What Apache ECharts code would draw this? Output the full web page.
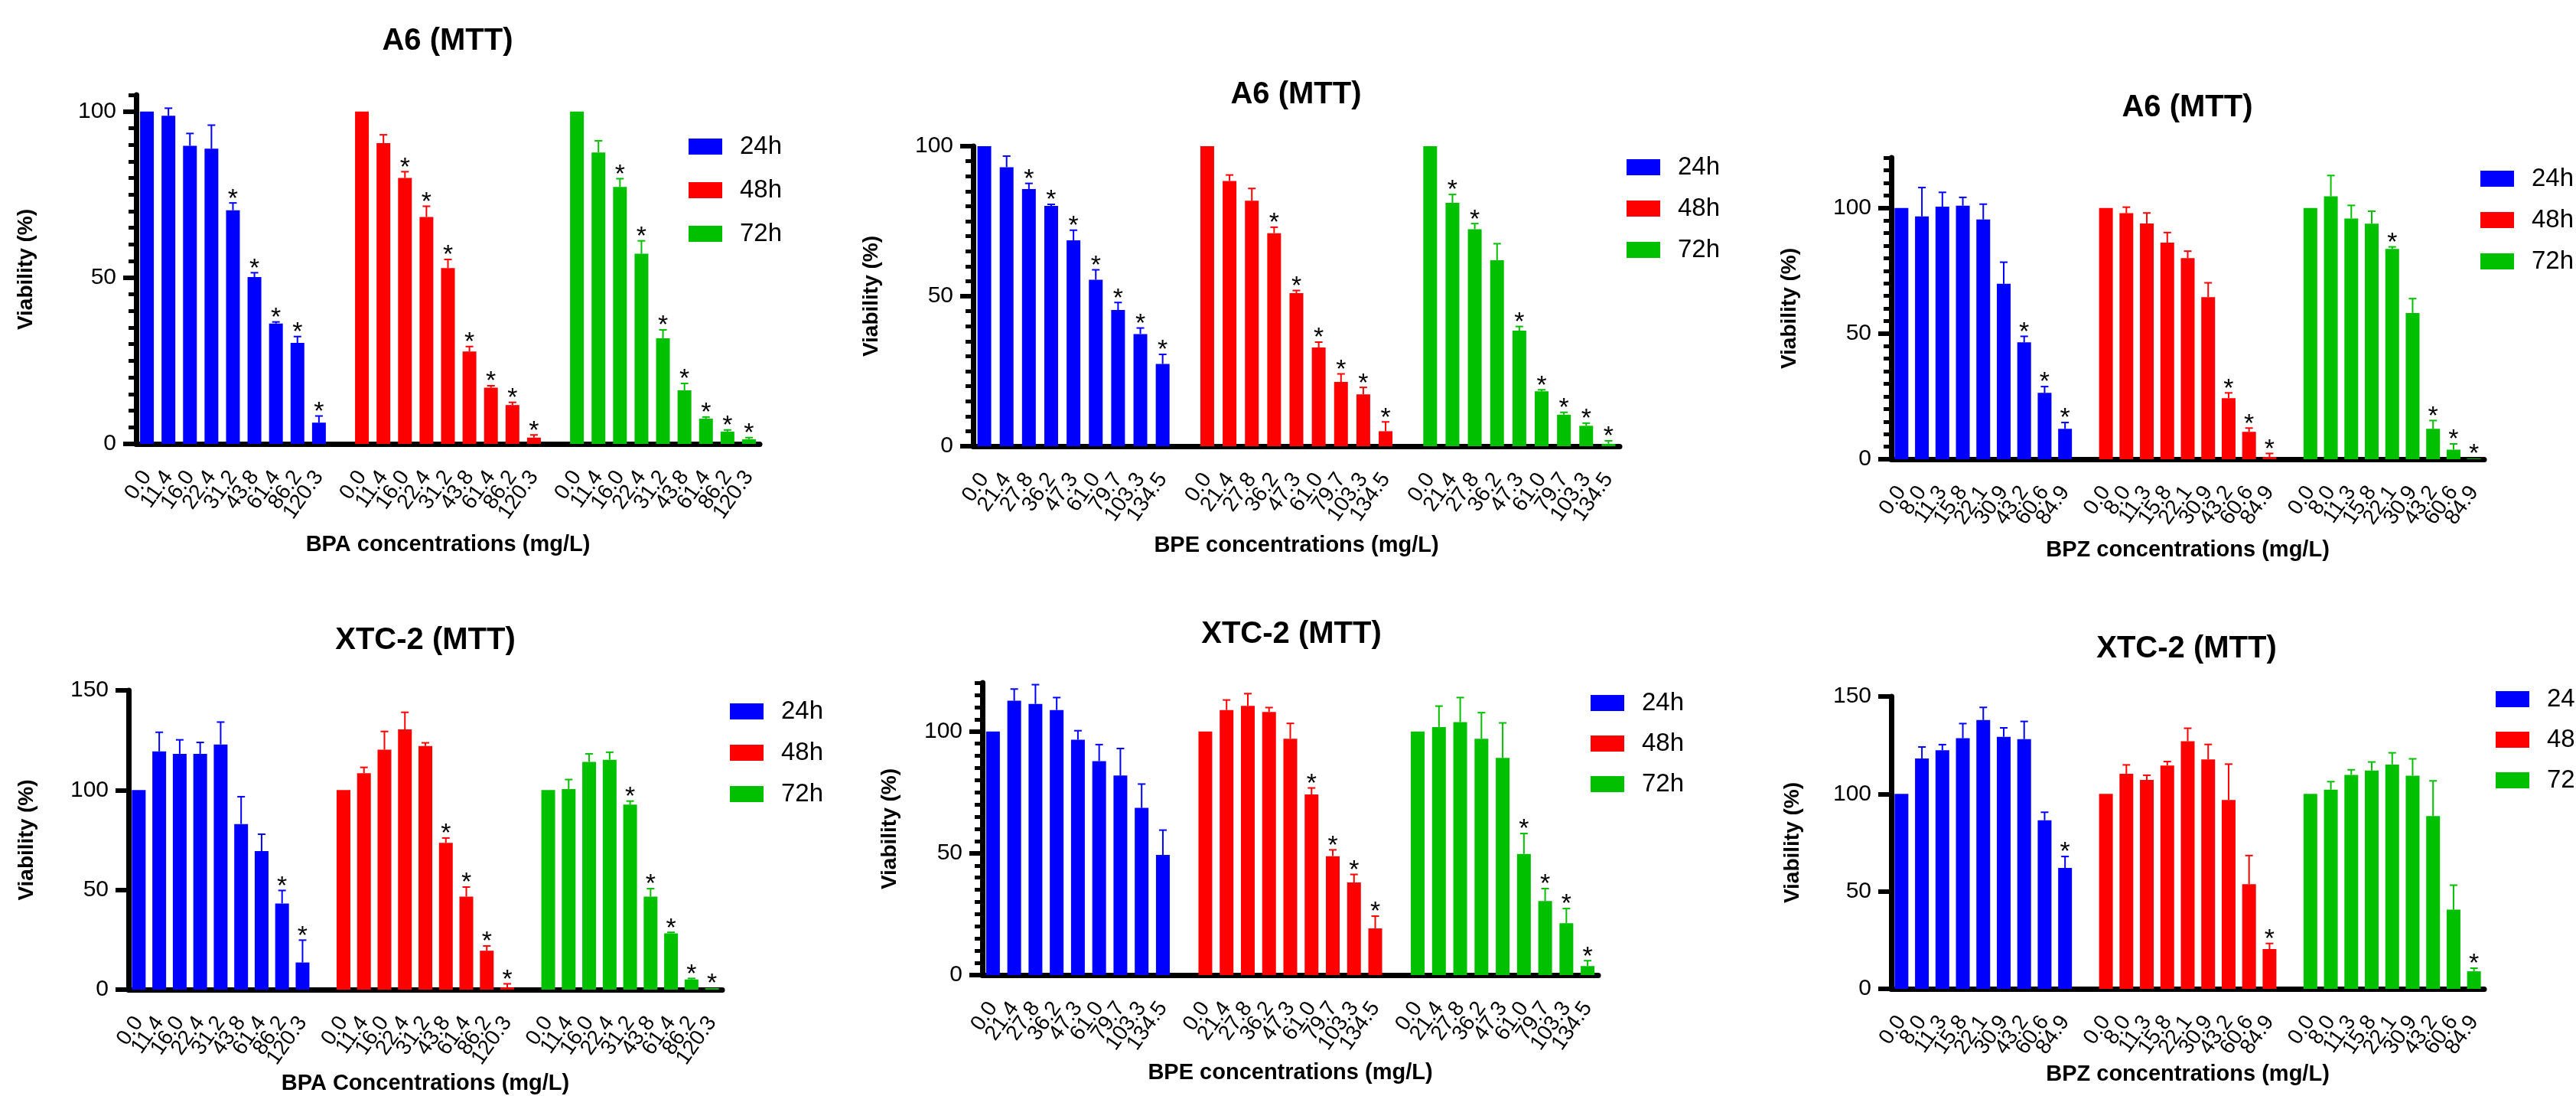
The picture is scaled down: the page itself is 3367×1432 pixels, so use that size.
<!DOCTYPE html>
<html>
<head>
<meta charset="utf-8">
<title>MTT viability</title>
<script src="https://cdn.jsdelivr.net/npm/echarts@6/dist/echarts.min.js"></script>
<style>
  html, body { margin: 0; padding: 0; background: #fff; }
  #main { width: 3367px; height: 1432px; }
</style>
</head>
<body>
<div id="main"></div>
<script>
// concentrations (mg/L)
var bpaConc = ['0.0', '11.4', '16.0', '22.4', '31.2', '43.8', '61.4', '86.2', '120.3'];
var bpeConc = ['0.0', '21.4', '27.8', '36.2', '47.3', '61.0', '79.7', '103.3', '134.5'];
var bpzConc = ['0.0', '8.0', '11.3', '15.8', '22.1', '30.9', '43.2', '60.6', '84.9'];
var times = ['24h', '48h', '72h'];

// A6, BPA  (mean, SD, significant)
var a6Bpa24 = [100, 98.7, 89.7, 88.8, 70.3, 50.2, 36.2, 30.4, 6.4];
var a6Bpa24Sd = [0, 2.3, 3.7, 7.1, 2.2, 1.3, 0.5, 1.9, 2.0];
var a6Bpa24Sig = [0, 0, 0, 0, 1, 1, 1, 1, 1];
var a6Bpa48 = [100, 90.5, 80.0, 68.3, 52.9, 27.8, 16.9, 11.7, 1.9];
var a6Bpa48Sd = [0, 2.5, 1.9, 3.2, 2.6, 1.5, 0.6, 0.8, 0.8];
var a6Bpa48Sig = [0, 0, 1, 1, 1, 1, 1, 1, 1];
var a6Bpa72 = [100, 87.7, 77.3, 57.2, 31.8, 16.1, 7.6, 3.7, 1.4];
var a6Bpa72Sd = [0, 3.5, 2.5, 3.9, 2.5, 2.1, 0.5, 0.5, 0.5];
var a6Bpa72Sig = [0, 0, 1, 1, 1, 1, 1, 1, 1];

// A6, BPE
var a6Bpe24 = [100, 93.0, 85.7, 80.1, 68.6, 55.5, 45.4, 37.4, 27.4];
var a6Bpe24Sd = [0, 3.7, 1.9, 0.5, 3.4, 3.3, 2.5, 2.0, 3.2];
var a6Bpe24Sig = [0, 0, 1, 1, 1, 1, 1, 1, 1];
var a6Bpe48 = [100, 88.4, 81.8, 71.0, 51.0, 32.9, 21.4, 17.3, 5.0];
var a6Bpe48Sd = [0, 2.0, 4.1, 2.0, 0.9, 1.8, 2.7, 2.3, 3.1];
var a6Bpe48Sig = [0, 0, 0, 1, 1, 1, 1, 1, 1];
var a6Bpe72 = [100, 81.1, 72.3, 62.0, 38.5, 18.3, 10.5, 6.8, 0.8];
var a6Bpe72Sd = [0, 2.8, 1.9, 5.5, 1.4, 0.5, 0.8, 0.9, 1.0];
var a6Bpe72Sig = [0, 1, 1, 0, 1, 1, 1, 1, 1];

// A6, BPZ
var a6Bpz24 = [100, 96.6, 100.5, 100.9, 95.4, 69.8, 46.5, 26.4, 12.1];
var a6Bpz24Sd = [0, 11.5, 5.7, 3.3, 6.1, 8.6, 2.4, 2.5, 2.5];
var a6Bpz24Sig = [0, 0, 0, 0, 0, 0, 1, 1, 1];
var a6Bpz48 = [100, 97.9, 93.8, 86.2, 80.0, 64.5, 24.3, 10.9, 0.9];
var a6Bpz48Sd = [0, 2.4, 4.2, 4.0, 2.8, 5.7, 2.1, 1.5, 1.4];
var a6Bpz48Sig = [0, 0, 0, 0, 0, 0, 1, 1, 1];
var a6Bpz72 = [100, 104.6, 95.8, 93.7, 83.7, 58.2, 12.1, 3.8, 0.3];
var a6Bpz72Sd = [0, 8.3, 5.2, 5.0, 0.8, 5.7, 3.3, 2.3, 0];
var a6Bpz72Sig = [0, 0, 0, 0, 1, 0, 1, 1, 1];

// XTC-2, BPA
var xtcBpa24 = [100, 119.4, 118.2, 118.2, 122.9, 83.0, 69.4, 43.2, 13.6];
var xtcBpa24Sd = [0, 9.6, 7.0, 5.7, 11.2, 13.7, 8.5, 6.5, 11.2];
var xtcBpa24Sig = [0, 0, 0, 0, 0, 0, 0, 1, 1];
var xtcBpa48 = [100, 108.5, 120.3, 130.4, 122.1, 73.6, 46.6, 19.5, 1.1];
var xtcBpa48Sd = [0, 2.9, 9.1, 8.6, 1.6, 2.4, 4.8, 2.4, 1.8];
var xtcBpa48Sig = [0, 0, 0, 0, 0, 1, 1, 1, 1];
var xtcBpa72 = [100, 100.5, 114.1, 115.2, 92.7, 46.6, 28.2, 5.1, 0.8];
var xtcBpa72Sd = [0, 4.8, 4.1, 3.8, 1.8, 4.0, 0.5, 0.5, 0];
var xtcBpa72Sig = [0, 0, 0, 0, 1, 1, 1, 1, 1];

// XTC-2, BPE
var xtcBpe24 = [100, 112.6, 111.3, 108.8, 96.6, 87.8, 81.9, 68.6, 49.3];
var xtcBpe24Sd = [0, 4.8, 7.9, 5.1, 3.7, 6.8, 11.1, 9.8, 10.2];
var xtcBpe24Sig = [0, 0, 0, 0, 0, 0, 0, 0, 0];
var xtcBpe48 = [100, 108.8, 110.5, 108.0, 97.0, 74.1, 48.8, 38.0, 19.2];
var xtcBpe48Sd = [0, 4.1, 5.0, 1.8, 6.3, 2.7, 2.6, 3.3, 5.0];
var xtcBpe48Sig = [0, 0, 0, 0, 0, 1, 1, 1, 1];
var xtcBpe72 = [100, 101.8, 103.8, 97.0, 89.1, 49.7, 30.4, 21.3, 3.7];
var xtcBpe72Sd = [0, 8.6, 10.1, 10.7, 14.4, 8.4, 5.1, 6.0, 2.2];
var xtcBpe72Sig = [0, 0, 0, 0, 0, 1, 1, 1, 1];

// XTC-2, BPZ
var xtcBpz24 = [100, 118.2, 122.4, 128.6, 137.9, 129.3, 128.1, 86.5, 62.0];
var xtcBpz24Sd = [0, 5.9, 2.9, 7.5, 6.5, 4.6, 9.1, 4.1, 5.9];
var xtcBpz24Sig = [0, 0, 0, 0, 0, 0, 0, 0, 1];
var xtcBpz48 = [100, 110.3, 107.2, 114.6, 127.0, 117.7, 96.9, 53.7, 20.4];
var xtcBpz48Sd = [0, 4.6, 2.4, 2.0, 6.7, 7.7, 18.4, 14.7, 2.9];
var xtcBpz48Sig = [0, 0, 0, 0, 0, 0, 0, 0, 1];
var xtcBpz72 = [100, 102.2, 109.8, 112.0, 115.1, 109.4, 88.6, 40.6, 9.0];
var xtcBpz72Sd = [0, 4.1, 2.6, 4.4, 6.0, 8.6, 18.1, 12.6, 1.6];
var xtcBpz72Sig = [0, 0, 0, 0, 0, 0, 0, 0, 1];

var colors = ['#0000ff', '#ff0000', '#00c000'];
var font = '"Liberation Sans", Arial, sans-serif';

// layout of the six panels
var panels = [
  { title: 'A6 (MTT)', xName: 'BPA concentrations (mg/L)', conc: bpaConc,
    means: [a6Bpa24, a6Bpa48, a6Bpa72], sds: [a6Bpa24Sd, a6Bpa48Sd, a6Bpa72Sd], sigs: [a6Bpa24Sig, a6Bpa48Sig, a6Bpa72Sig],
    ymax: 105, yTicks: [0, 50, 100], minor: true,
    grid: { left: 178, top: 124, width: 815, height: 456 }, tpos: [585, 55], lpos: [900, 175], lgap: 24, yGap: 130, xGap: 117 },
  { title: 'A6 (MTT)', xName: 'BPE concentrations (mg/L)', conc: bpeConc,
    means: [a6Bpe24, a6Bpe48, a6Bpe72], sds: [a6Bpe24Sd, a6Bpe48Sd, a6Bpe72Sd], sigs: [a6Bpe24Sig, a6Bpe48Sig, a6Bpe72Sig],
    ymax: 100, yTicks: [0, 50, 100], minor: true,
    grid: { left: 1272, top: 191, width: 845, height: 392 }, tpos: [1694, 125], lpos: [2126, 202], lgap: 21, yGap: 119, xGap: 115 },
  { title: 'A6 (MTT)', xName: 'BPZ concentrations (mg/L)', conc: bpzConc,
    means: [a6Bpz24, a6Bpz48, a6Bpz72], sds: [a6Bpz24Sd, a6Bpz48Sd, a6Bpz72Sd], sigs: [a6Bpz24Sig, a6Bpz48Sig, a6Bpz72Sig],
    ymax: 120, yTicks: [0, 50, 100], minor: true,
    grid: { left: 2472, top: 206, width: 775, height: 394 }, tpos: [2859, 142], lpos: [3242, 217], lgap: 21, yGap: 119, xGap: 104 },
  { title: 'XTC-2 (MTT)', xName: 'BPA Concentrations (mg/L)', conc: bpaConc,
    means: [xtcBpa24, xtcBpa48, xtcBpa72], sds: [xtcBpa24Sd, xtcBpa48Sd, xtcBpa72Sd], sigs: [xtcBpa24Sig, xtcBpa48Sig, xtcBpa72Sig],
    ymax: 150, yTicks: [0, 50, 100, 150], minor: false,
    grid: { left: 168, top: 902, width: 776, height: 391 }, tpos: [556, 838], lpos: [954, 913], lgap: 21, yGap: 119, xGap: 108 },
  { title: 'XTC-2 (MTT)', xName: 'BPE concentrations (mg/L)', conc: bpeConc,
    means: [xtcBpe24, xtcBpe48, xtcBpe72], sds: [xtcBpe24Sd, xtcBpe48Sd, xtcBpe72Sd], sigs: [xtcBpe24Sig, xtcBpe48Sig, xtcBpe72Sig],
    ymax: 120, yTicks: [0, 50, 100], minor: true,
    grid: { left: 1284, top: 892, width: 805, height: 382 }, tpos: [1688, 830], lpos: [2079, 902], lgap: 20, yGap: 107, xGap: 113 },
  { title: 'XTC-2 (MTT)', xName: 'BPZ concentrations (mg/L)', conc: bpzConc,
    means: [xtcBpz24, xtcBpz48, xtcBpz72], sds: [xtcBpz24Sd, xtcBpz48Sd, xtcBpz72Sd], sigs: [xtcBpz24Sig, xtcBpz48Sig, xtcBpz72Sig],
    ymax: 150, yTicks: [0, 50, 100, 150], minor: false,
    grid: { left: 2472, top: 910, width: 775, height: 382 }, tpos: [2858, 849], lpos: [3262, 897], lgap: 20, yGap: 115, xGap: 97 }
];

// error bar (mean + SD) and star drawn through the axes
function renderErr(params, api) {
  var i = api.value(0), m = api.value(1), sd = api.value(2), sig = api.value(3);
  var color = api.visual('color');
  var base = api.coord([i, m]);
  var top = api.coord([i, m + sd]);
  var kids = [];
  if (sd > 0) {
    kids.push({ type: 'line', shape: { x1: base[0], y1: base[1], x2: top[0], y2: top[1] }, style: { stroke: color, lineWidth: 2 } });
    kids.push({ type: 'line', shape: { x1: top[0] - 5, y1: top[1], x2: top[0] + 5, y2: top[1] }, style: { stroke: color, lineWidth: 2 } });
  }
  if (sig) {
    kids.push({ type: 'text', x: top[0], y: top[1] - 5,
      style: { text: '*', fill: '#000', font: '34px ' + font, align: 'center', verticalAlign: 'middle' } });
  }
  return { type: 'group', children: kids };
}

var option = { animation: false, textStyle: { fontFamily: font }, title: [], legend: [], grid: [], xAxis: [], yAxis: [], series: [] };

panels.forEach(function (p, k) {
  var cats = p.conc.concat([''], p.conc, [''], p.conc);
  var g = p.grid;
  option.grid.push({ left: g.left, top: g.top, width: g.width, height: g.height, containLabel: false, outerBoundsMode: 'none' });
  option.title.push({ text: p.title, left: p.tpos[0], top: p.tpos[1] - 21, textAlign: 'center', padding: 0,
    textStyle: { fontSize: 40, fontWeight: 'bold', color: '#000', fontFamily: font } });
  option.legend.push({ data: times, orient: 'vertical', left: p.lpos[0], top: p.lpos[1], padding: 0,
    itemWidth: 44, itemHeight: 21, itemGap: p.lgap, icon: 'rect',
    formatter: function (name) { return '{t|' + name + '}'; },
    textStyle: { fontSize: 33, lineHeight: 32, color: '#000', fontFamily: font,
      rich: { t: { fontSize: 33, lineHeight: 32, color: '#000', fontFamily: font, padding: [0, 0, 0, 18] } } } });
  option.xAxis.push({ gridIndex: k, type: 'category', data: cats, boundaryGap: true,
    axisLine: { lineStyle: { color: '#000', width: 7 } },
    axisTick: { alignWithLabel: true, length: 17, lineStyle: { color: '#000', width: 7 },
      interval: function (i, v) { return v !== ''; } },
    axisLabel: { interval: 0, rotate: 55, fontSize: 28, color: '#000', margin: 38, fontFamily: font },
    splitLine: { show: false },
    name: p.xName, nameLocation: 'middle', nameGap: p.xGap,
    nameTextStyle: { fontSize: 29, fontWeight: 'bold', color: '#000', fontFamily: font } });
  var yMain = option.yAxis.length;
  option.yAxis.push({ gridIndex: k, type: 'value', position: 'left', min: 0, max: p.ymax, interval: 50,
    axisLine: { show: true, lineStyle: { color: '#000', width: 7 } },
    axisTick: { show: true, length: 17, customValues: p.yTicks, lineStyle: { color: '#000', width: 6 } },
    axisLabel: { customValues: p.yTicks, fontSize: 30, color: '#000', margin: 26, fontFamily: font },
    splitLine: { show: false },
    name: 'Viability (%)', nameLocation: 'middle', nameGap: p.yGap,
    nameTextStyle: { fontSize: 28, fontWeight: 'bold', color: '#000', fontFamily: font } });
  if (p.minor) {
    option.yAxis.push({ gridIndex: k, type: 'value', position: 'left', offset: 0, min: 0, max: p.ymax, interval: 5,
      axisLine: { show: false }, axisLabel: { show: false }, splitLine: { show: false },
      axisTick: { show: true, length: 10, lineStyle: { color: '#000', width: 5 } } });
  }
  times.forEach(function (t, j) {
    var barData = cats.map(function () { return '-'; });
    var errData = [];
    p.means[j].forEach(function (v, i) {
      var idx = j * 10 + i;
      barData[idx] = v;
      errData.push([idx, v, p.sds[j][i], p.sigs[j][i]]);
    });
    option.series.push({ name: t, type: 'bar', xAxisIndex: k, yAxisIndex: yMain, data: barData,
      barWidth: 18, barGap: '-100%', itemStyle: { color: colors[j] } });
    option.series.push({ name: t, type: 'custom', xAxisIndex: k, yAxisIndex: yMain, data: errData,
      renderItem: renderErr, itemStyle: { color: colors[j] }, z: 3 });
  });
});

var chart = echarts.init(document.getElementById('main'));
chart.setOption(option);
</script>
</body>
</html>
